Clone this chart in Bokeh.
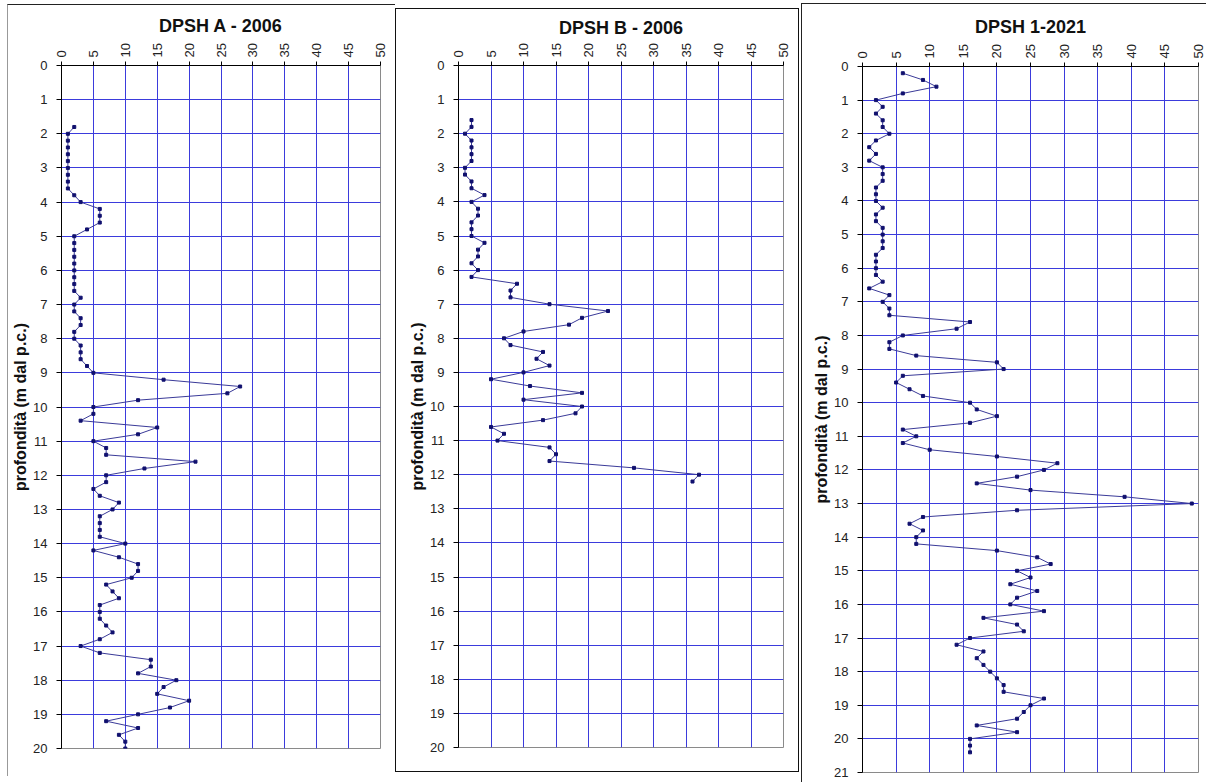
import math
from bokeh.plotting import figure
from bokeh.models import Range1d, FixedTicker
from bokeh.embed import file_html
from bokeh.resources import INLINE

# ---------------- data ----------------
titles = ["DPSH A - 2006", "DPSH B - 2006", "DPSH 1-2021"]
y_axis_label = "profondità (m dal p.c.)"
x_ticks = [0, 5, 10, 15, 20, 25, 30, 35, 40, 45, 50]

depth_a = [1.8,
           2.0, 2.2, 2.4, 2.6, 2.8, 3.0, 3.2, 3.4, 3.6, 3.8,
           4.0, 4.2, 4.4, 4.6, 4.8, 5.0, 5.2, 5.4, 5.6, 5.8,
           6.0, 6.2, 6.4, 6.6, 6.8, 7.0, 7.2, 7.4, 7.6, 7.8,
           8.0, 8.2, 8.4, 8.6, 8.8, 9.0, 9.2, 9.4, 9.6, 9.8,
           10.0, 10.2, 10.4, 10.6, 10.8, 11.0, 11.2, 11.4, 11.6, 11.8,
           12.0, 12.2, 12.4, 12.6, 12.8, 13.0, 13.2, 13.4, 13.6, 13.8,
           14.0, 14.2, 14.4, 14.6, 14.8, 15.0, 15.2, 15.4, 15.6, 15.8,
           16.0, 16.2, 16.4, 16.6, 16.8, 17.0, 17.2, 17.4, 17.6, 17.8,
           18.0, 18.2, 18.4, 18.6, 18.8, 19.0, 19.2, 19.4, 19.6, 19.8,
           20.0]
blows_a = [2,
           1, 1, 1, 1, 1, 1, 1, 1, 1, 2,
           3, 6, 6, 6, 4, 2, 2, 2, 2, 2,
           2, 2, 2, 2, 3, 2, 2, 3, 3, 2,
           2, 3, 3, 3, 4, 5, 16, 28, 26, 12,
           5, 5, 3, 15, 12, 5, 7, 7, 21, 13,
           7, 7, 5, 6, 9, 8, 6, 6, 6, 6,
           10, 5, 9, 12, 12, 11, 7, 8, 9, 6,
           6, 6, 7, 8, 6, 3, 6, 14, 14, 12,
           18, 16, 15, 20, 17, 12, 7, 12, 9, 10,
           10]

depth_b = [1.6, 1.8,
           2.0, 2.2, 2.4, 2.6, 2.8, 3.0, 3.2, 3.4, 3.6, 3.8,
           4.0, 4.2, 4.4, 4.6, 4.8, 5.0, 5.2, 5.4, 5.6, 5.8,
           6.0, 6.2, 6.4, 6.6, 6.8, 7.0, 7.2, 7.4, 7.6, 7.8,
           8.0, 8.2, 8.4, 8.6, 8.8, 9.0, 9.2, 9.4, 9.6, 9.8,
           10.0, 10.2, 10.4, 10.6, 10.8, 11.0, 11.2, 11.4, 11.6, 11.8,
           12.0, 12.2]
blows_b = [2, 2,
           1, 2, 2, 2, 2, 1, 1, 2, 2, 4,
           2, 3, 3, 2, 2, 2, 4, 3, 3, 2,
           3, 2, 9, 8, 8, 14, 23, 19, 17, 10,
           7, 8, 13, 12, 14, 10, 5, 11, 19, 10,
           19, 18, 13, 5, 7, 6, 14, 15, 14, 27,
           37, 36]

depth_c = [0.2, 0.4, 0.6, 0.8,
           1.0, 1.2, 1.4, 1.6, 1.8, 2.0, 2.2, 2.4, 2.6, 2.8,
           3.0, 3.2, 3.4, 3.6, 3.8, 4.0, 4.2, 4.4, 4.6, 4.8,
           5.0, 5.2, 5.4, 5.6, 5.8, 6.0, 6.2, 6.4, 6.6, 6.8,
           7.0, 7.2, 7.4, 7.6, 7.8, 8.0, 8.2, 8.4, 8.6, 8.8,
           9.0, 9.2, 9.4, 9.6, 9.8, 10.0, 10.2, 10.4, 10.6, 10.8,
           11.0, 11.2, 11.4, 11.6, 11.8, 12.0, 12.2, 12.4, 12.6, 12.8,
           13.0, 13.2, 13.4, 13.6, 13.8, 14.0, 14.2, 14.4, 14.6, 14.8,
           15.0, 15.2, 15.4, 15.6, 15.8, 16.0, 16.2, 16.4, 16.6, 16.8,
           17.0, 17.2, 17.4, 17.6, 17.8, 18.0, 18.2, 18.4, 18.6, 18.8,
           19.0, 19.2, 19.4, 19.6, 19.8, 20.0, 20.2, 20.4]
blows_c = [6, 9, 11, 6,
           2, 3, 2, 3, 3, 4, 2, 1, 2, 1,
           3, 3, 3, 2, 2, 2, 3, 2, 2, 3,
           3, 3, 3, 2, 2, 2, 2, 3, 1, 4,
           3, 4, 4, 16, 14, 6, 4, 4, 8, 20,
           21, 6, 5, 7, 9, 16, 17, 20, 16, 6,
           8, 6, 10, 20, 29, 27, 23, 17, 25, 39,
           49, 23, 9, 7, 9, 8, 8, 20, 26, 28,
           23, 25, 22, 26, 23, 22, 27, 18, 23, 24,
           16, 14, 18, 17, 18, 19, 20, 21, 21, 27,
           25, 24, 23, 17, 23, 16, 16, 16]

GRID = "#3b3bdc"
LINE = "#3a3a98"
MARK = "#10106e"
FONT = "Liberation Sans"


def panel(title, depths, blows, ymax, fw, fh, bl, br, bt, bb, css,
          toff=0, tstand=8):
    p = figure(frame_width=fw, frame_height=fh, output_backend="svg", toolbar_location=None,
               x_range=Range1d(0, 50), y_range=Range1d(ymax, 0),
               x_axis_location="above", min_border_left=bl, min_border_right=br,
               min_border_top=bt, min_border_bottom=bb, title=title, styles=css)
    p.title.text_font = FONT
    p.title.text_font_style = "bold"
    p.title.text_font_size = "18px"
    p.title.align = "center"
    p.title.offset = toff
    p.title.text_color = "#111111"
    p.title.standoff = tstand

    p.xaxis.ticker = FixedTicker(ticks=x_ticks)
    p.yaxis.ticker = FixedTicker(ticks=list(range(0, ymax + 1)))
    p.xaxis.major_label_orientation = math.pi / 2
    for ax in (p.xaxis, p.yaxis):
        ax.major_label_text_font = FONT
        ax.major_label_text_color = "#222222"
        ax.axis_line_color = "#000000"
        ax.major_tick_line_color = "#000000"
        ax.minor_tick_line_color = None
        ax.major_tick_in = 0
    p.xaxis.major_label_text_font_size = "13px"
    p.yaxis.major_label_text_font_size = "13px"
    p.xaxis.major_tick_out = 4
    p.yaxis.major_tick_out = 5
    p.xaxis.major_label_standoff = 4
    p.yaxis.major_label_standoff = 9

    p.yaxis.axis_label = y_axis_label
    p.yaxis.axis_label_text_font = FONT
    p.yaxis.axis_label_text_font_style = "bold"
    p.yaxis.axis_label_text_font_size = "16px"
    p.yaxis.axis_label_text_color = "#111111"
    p.yaxis.axis_label_standoff = 1

    p.xgrid.grid_line_color = GRID
    p.ygrid.grid_line_color = GRID
    p.xgrid.grid_line_width = 1
    p.ygrid.grid_line_width = 1
    p.outline_line_color = "#8a8a8a"
    p.background_fill_color = "white"
    p.border_fill_color = "white"

    p.line(blows, depths, line_color=LINE, line_width=1)
    p.scatter(blows, depths, marker="square", size=3, fill_color=MARK, line_color=MARK)
    return p


pa = panel(titles[0], depth_a, blows_a, 20, 319, 683, 53, 15, 60, 28,
           {"position": "absolute", "left": "7px", "top": "4px",
            "border-top": "1px solid #222", "border-left": "1px solid #999"},
           tstand=10)
pb = panel(titles[1], depth_b, blows_b, 20, 325, 682, 62, 15, 56, 24,
           {"position": "absolute", "left": "395px", "top": "8px",
            "border": "1px solid #111"},
           tstand=6)
pc = panel(titles[2], depth_c, blows_c, 21, 336, 706, 60, 8, 62, 10,
           {"position": "absolute", "left": "801px", "top": "3px",
            "border-top": "1px solid #222", "border-left": "1px solid #222"},
           toff=-12, tstand=10)

open("out.html", "w").write(file_html([pa, pb, pc], INLINE))
